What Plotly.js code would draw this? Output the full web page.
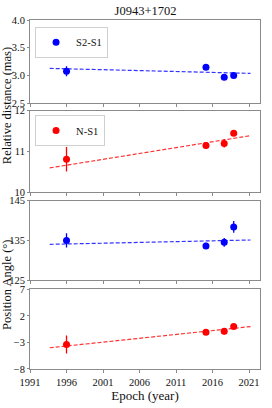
<!DOCTYPE html>
<html>
<head>
<meta charset="utf-8">
<script src="https://cdn.plot.ly/plotly-3.0.1.min.js"></script>
<style>html,body{margin:0;padding:0;background:#fff}#chart{width:272px;height:408px}</style>
</head>
<body>
<div id="chart"></div>
<script>
// Data
var epochs = [1996.0, 2015.1, 2017.6, 2018.9];
var s2s1Dist = [3.08, 3.15, 2.97, 3.00];
var s2s1DistErr = [0.09, 0.03, 0.03, 0.05];
var ns1Dist = [10.81, 11.15, 11.20, 11.45];
var ns1DistErr = [0.30, 0.08, 0.10, 0.06];
var s2s1PA = [135.0, 133.6, 134.5, 138.4];
var s2s1PAErr = [1.8, 0.8, 1.1, 1.5];
var ns1PA = [-3.4, -1.05, -0.9, 0.0];
var ns1PAErr = [1.7, 0.5, 0.6, 0.4];
var fitEpochs = [1993.7, 2021.2];
var fitS2S1Dist = [3.13, 3.04];
var fitNS1Dist = [10.60, 11.39];
var fitS2S1PA = [134.0, 135.1];
var fitNS1PA = [-4.0, 0.0];
var xTicks = [1991, 1996, 2001, 2006, 2011, 2016, 2021];

var BLUE = '#0000ff', RED = '#ff0000';
var FONT = 'Liberation Serif';

function pts(y, err, color, name, xa, ya, leg, show) {
  return {x: epochs, y: y, type: 'scatter', mode: 'markers', name: name,
    xaxis: xa, yaxis: ya, legend: leg, showlegend: show,
    marker: {color: color, size: 7},
    error_y: {type: 'data', array: err, visible: true, color: color, thickness: 1.3, width: 0}};
}
function fit(y, color, xa, ya) {
  return {x: fitEpochs, y: y, type: 'scatter', mode: 'lines', xaxis: xa, yaxis: ya,
    showlegend: false, hoverinfo: 'skip',
    line: {color: color, width: 1.2, dash: '4px,2px'}, opacity: 0.8};
}

var traces = [
  fit(fitS2S1Dist, BLUE, 'x', 'y'),
  pts(s2s1Dist, s2s1DistErr, BLUE, 'S2-S1', 'x', 'y', 'legend', true),
  fit(fitNS1Dist, RED, 'x2', 'y2'),
  pts(ns1Dist, ns1DistErr, RED, 'N-S1', 'x2', 'y2', 'legend2', true),
  fit(fitS2S1PA, BLUE, 'x3', 'y3'),
  pts(s2s1PA, s2s1PAErr, BLUE, 'S2-S1 PA', 'x3', 'y3', 'legend', false),
  fit(fitNS1PA, RED, 'x4', 'y4'),
  pts(ns1PA, ns1PAErr, RED, 'N-S1 PA', 'x4', 'y4', 'legend', false)
];

var GRAY = '#8a8a8a';
function xax(anchor, labels) {
  return {anchor: anchor, domain: [0, 1], range: [1991, 2022.5], tickvals: xTicks,
    showticklabels: labels, ticks: 'outside', ticklen: 3, tickcolor: GRAY,
    showline: true, mirror: true, linecolor: GRAY, linewidth: 1, showgrid: false, zeroline: false,
    tickfont: {family: FONT, size: 10.5, color: '#111'}};
}
function yax(anchor, dom, range, vals, fmt) {
  return {anchor: anchor, domain: dom, range: range, tickvals: vals, tickformat: fmt,
    ticks: 'outside', ticklen: 2, tickcolor: GRAY,
    showline: true, mirror: true, linecolor: GRAY, linewidth: 1, showgrid: false, zeroline: false,
    tickfont: {family: FONT, size: 10.5, color: '#111'}};
}

var layout = {
  width: 272, height: 408,
  margin: {l: 30, r: 12, t: 20, b: 39},
  paper_bgcolor: '#fff', plot_bgcolor: '#fff',
  font: {family: FONT, color: '#111'},
  title: {text: 'J0943+1702', font: {family: FONT, size: 12.5, color: '#111'},
          x: 0.535, xanchor: 'center', y: 0.975, yanchor: 'middle'},
  xaxis: xax('y', false),
  xaxis2: Object.assign(xax('y2', false), {matches: 'x'}),
  xaxis3: Object.assign(xax('y3', false), {matches: 'x'}),
  xaxis4: Object.assign(xax('y4', true), {matches: 'x',
    title: {text: 'Epoch (year)', font: {family: FONT, size: 13, color: '#111'}, standoff: 2}}),
  yaxis: yax('x', [0.761, 1.0], [2.5, 4.0], [2.5, 3.0, 3.5, 4.0], '.1f'),
  yaxis2: yax('x2', [0.506, 0.740], [10, 12], [10, 11, 12], 'd'),
  yaxis3: yax('x3', [0.255, 0.482], [125, 145], [125, 135, 145], 'd'),
  yaxis4: yax('x4', [0, 0.228], [-8, 7], [-8, -3, 2, 7], 'd'),
  legend: {x: 0.022, y: 0.981, xanchor: 'left', yanchor: 'top', bgcolor: '#fff',
    bordercolor: '#d0d0d0', borderwidth: 1, itemwidth: 30, tracegroupgap: 0,
    font: {family: FONT, size: 10.5, color: '#111'}},
  legend2: {x: 0.022, y: 0.728, xanchor: 'left', yanchor: 'top', bgcolor: '#fff',
    bordercolor: '#d0d0d0', borderwidth: 1, itemwidth: 30, tracegroupgap: 0,
    font: {family: FONT, size: 10.5, color: '#111'}},
  annotations: [
    {text: 'Relative distance (mas)', textangle: -90, xref: 'paper', yref: 'paper',
     x: -0.1, y: 0.753, xanchor: 'center', yanchor: 'middle', showarrow: false,
     font: {family: FONT, size: 12.5, color: '#111'}},
    {text: 'Position Angle (°)', textangle: -90, xref: 'paper', yref: 'paper',
     x: -0.1, y: 0.241, xanchor: 'center', yanchor: 'middle', showarrow: false,
     font: {family: FONT, size: 12.5, color: '#111'}}
  ]
};

Plotly.newPlot('chart', traces, layout, {displayModeBar: false, staticPlot: true});
</script>
</body>
</html>
